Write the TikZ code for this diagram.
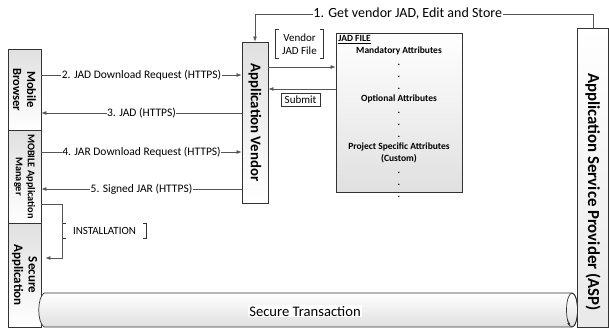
\documentclass[tikz,border=0pt]{standalone}
\usepackage{fontspec}
\setmainfont{Carlito}
\setsansfont{Carlito}
\usetikzlibrary{arrows.meta, positioning, shapes.geometric, calc}
\definecolor{cline}{HTML}{555555}
\definecolor{cedge}{HTML}{333333}
\definecolor{cshade}{HTML}{E0E0E0}
\tikzset{
  every picture/.style={x=1pt, y=-1pt, line width=0.7pt},
  lane/.style={draw=cedge, rectangle, rotate=-90, align=center, inner sep=1pt, font=\bfseries, top color=cshade, bottom color=white},
  arr/.style={-{Latex[length=1.8mm, width=1.4mm]}, draw=cline},
  lbl/.style={fill=white, inner sep=0.5pt, font=\fontsize{11.5}{13}\selectfont},
  tag/.style={align=center, inner sep=1.5pt, font=\fontsize{11}{12.5}\selectfont},
  bline/.style={draw=cedge, line width=0.7pt},
}

\begin{document}
\begin{tikzpicture}
  \useasboundingbox (0,0) rectangle (609,330);
  \node[lane, minimum width=81, minimum height=33, font=\fontsize{12.5}{14}\selectfont\bfseries] (mb) at (24.5,89.5) {Mobile\\Browser};
  \node[lane, minimum width=93, minimum height=33, font=\fontsize{10.3}{12}\selectfont\bfseries] (mam) at (24.5,176.5) {MOBILE Application\\Manager};
  \node[lane, minimum width=104, minimum height=33, font=\fontsize{13}{14.5}\selectfont\bfseries] (sa) at (24.5,275) {Secure\\Application};
  \node[lane, minimum width=161, minimum height=26, font=\fontsize{14.8}{16}\selectfont\bfseries] (av) at (255,122.5) {Application Vendor};
  \node[lane, minimum width=299, minimum height=31, top color=white, bottom color=cshade!70] (asp) at (593,177.5) {};
  \node[rotate=-90, inner sep=0pt, font=\fontsize{16.8}{18}\selectfont\bfseries] (asptxt) at (593,192) {Application Service Provider (ASP)};
  \node[draw=cedge, top color=white, bottom color=cshade, minimum width=126, minimum height=159] (jad) at (399,112.5) {};
  \node[anchor=north west, inner sep=0pt, font=\fontsize{9.5}{10}\selectfont\bfseries] (jadttl) at (338,35) {\underline{JAD FILE}};
  \node[anchor=north, inner sep=0pt, align=center, font=\fontsize{9.5}{12}\selectfont\bfseries] (jadtxt) at (399,46)
    {Mandatory Attributes\\.\\.\\.\\Optional Attributes\\.\\.\\.\\Project Specific Attributes\\(Custom)\\.\\.\\.};
  \node[tag, minimum width=47, minimum height=28] (vjf) at (299.5,44) {Vendor\\JAD File};
  \node[tag, draw=cedge, minimum width=39, minimum height=13] (sub) at (300.5,99.5) {Submit};
  \node[tag, minimum width=83, minimum height=14] (inst) at (104.5,231) {INSTALLATION};
  \draw[draw=cedge, top color=white, bottom color=cshade] (44,293) -- (572,293) .. controls (579.3,293) and (579.3,327) .. (572,327) -- (44,327) .. controls (37,322) and (37,298) .. (44,293) -- cycle;
  \draw[cedge] (572,310) ellipse [x radius=5.5, y radius=17];
  \draw[cedge, -{Latex[length=1.3mm, width=1.1mm]}] (567.3,319) -- (569.8,326.6);
  \node[fill=white, inner sep=1pt, font=\fontsize{14.6}{16}\selectfont] (st) at (305,311) {Secure Transaction};

  \draw[bline] ([xshift=3pt]vjf.north west) -| (vjf.south west) -- ++(3pt,0);
  \draw[bline] ([xshift=-3pt]vjf.north east) -| (vjf.south east) -- ++(-3pt,0);
  \draw[bline] ([xshift=3pt]inst.north west) -| (inst.south west) -- ++(3pt,0);
  \draw[bline] ([xshift=-3pt]inst.north east) -| (inst.south east) -- ++(-3pt,0);

  \draw[arr] (asp.west) -- (asp.west |- 0,14) -| node[lbl, pos=0.274, font=\fontsize{14}{15}\selectfont] {1. Get vendor JAD, Edit and Store} (av.west);
  \draw[arr] (mb.north |- 0,75) -- node[lbl] {2. JAD Download Request (HTTPS)} (av.south |- 0,75);
  \draw[arr] (av.south |- 0,113) -- node[lbl] {3. JAD (HTTPS)} (mb.north |- 0,113);
  \draw[arr] (mam.north |- 0,152) -- node[lbl] {4. JAR Download Request (HTTPS)} (av.south |- 0,152);
  \draw[arr] (av.south |- 0,189) -- node[lbl] {5. Signed JAR (HTTPS)} (mam.north |- 0,189);
  \draw[arr] (av.north |- 0,67) -- (jad.west |- 0,67);
  \draw[arr] (jad.west |- 0,89) -- (av.north |- 0,89);
  \draw[arr] (mam.north |- 0,204) -- ++(21,0) |- ($(sa.north |- 0,258)+(4,0)$);
\end{tikzpicture}
\end{document}
